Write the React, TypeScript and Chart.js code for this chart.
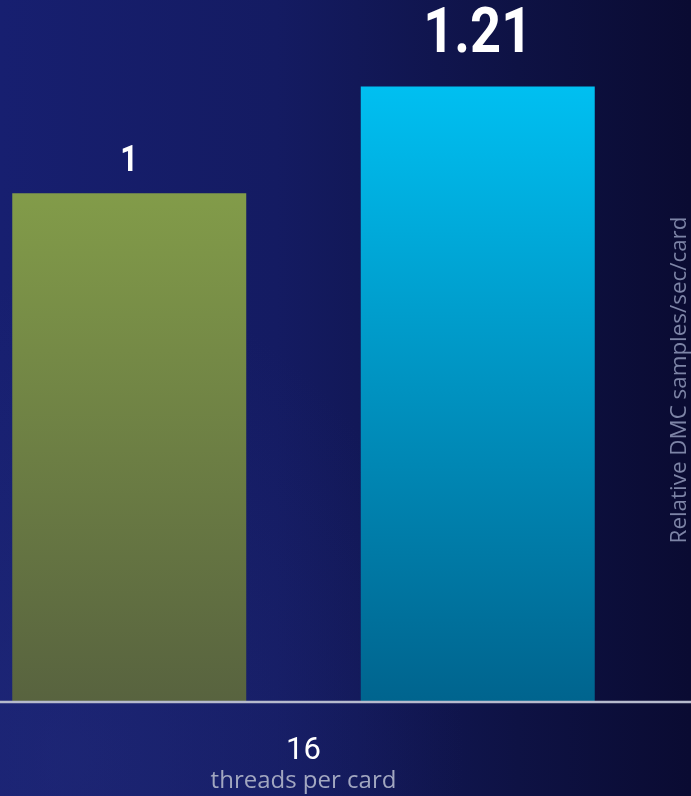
import React, { useEffect, useRef } from "react";
import { Chart, registerables } from "chart.js";

Chart.register(...registerables);

const categories: string[] = ["16"];
const seriesNames: string[] = ["Baseline", "Optimized"];
const seriesValues: number[][] = [[1], [1.21]];
const valueLabels: string[] = ["1", "1.21"];
const xAxisTitle = "threads per card";
const yAxisTitle = "Relative DMC samples/sec/card";

const gradientStops: [string, string][] = [
  ["#92b14d", "#58633f"],
  ["#00ccff", "#00648e"],
];
const labelFontSizes: number[] = [36, 63];
const labelOffsets: number[] = [31, 50];
const labelFont = "'Roboto', sans-serif";

export default function App() {
  const canvasRef = useRef<HTMLCanvasElement | null>(null);

  useEffect(() => {
    document.body.style.margin = "0";
    const canvas = canvasRef.current;
    if (!canvas) return;

    const valueLabelPlugin = {
      id: "valueLabels",
      afterDatasetsDraw(chart: any) {
        const ctx = chart.ctx;
        chart.data.datasets.forEach((_ds: any, di: number) => {
          const meta = chart.getDatasetMeta(di);
          meta.data.forEach((bar: any) => {
            ctx.save();
            ctx.translate(bar.x, bar.y - labelOffsets[di]);
            ctx.scale(0.86, 1);
            ctx.fillStyle = "#ffffff";
            ctx.font = `bold ${labelFontSizes[di]}px ${labelFont}`;
            ctx.textAlign = "center";
            ctx.textBaseline = "middle";
            ctx.fillText(valueLabels[di], 0, 0);
            ctx.restore();
          });
        });
      },
    };

    const decorPlugin = {
      id: "decor",
      afterDraw(chart: any) {
        const ctx = chart.ctx;
        const area = chart.chartArea;
        ctx.save();
        ctx.strokeStyle = "#b6bacd";
        ctx.lineWidth = 2.5;
        ctx.beginPath();
        ctx.moveTo(0, area.bottom);
        ctx.lineTo(chart.width, area.bottom);
        ctx.stroke();
        ctx.translate(chart.width - 11, (area.top + area.bottom) / 2 + 29);
        ctx.rotate(-Math.PI / 2);
        ctx.fillStyle = "#7d84a6";
        ctx.font = "22.4px 'Open Sans', sans-serif";
        ctx.textAlign = "center";
        ctx.textBaseline = "middle";
        ctx.fillText(yAxisTitle, 0, 0);
        ctx.restore();
      },
    };

    const makeGradient = (di: number) => (context: any) => {
      const chart = context.chart;
      const area = chart.chartArea;
      if (!area) return gradientStops[di][0];
      const meta = chart.getDatasetMeta(di);
      const bar = meta.data[0] as any;
      const top = bar && isFinite(bar.y) ? bar.y : area.top;
      const g = chart.ctx.createLinearGradient(0, top, 0, area.bottom);
      g.addColorStop(0, gradientStops[di][0]);
      g.addColorStop(1, gradientStops[di][1]);
      return g;
    };

    const chart = new Chart(canvas, {
      type: "bar",
      data: {
        labels: categories,
        datasets: seriesNames.map((name, di) => ({
          label: name,
          data: seriesValues[di],
          backgroundColor: makeGradient(di),
          borderWidth: 0,
        })),
      },
      options: {
        animation: false,
        responsive: false,
        maintainAspectRatio: false,
        categoryPercentage: 1.1483,
        barPercentage: 0.6714,
        layout: { padding: { left: 0, right: 84, top: 0, bottom: 0 } },
        plugins: {
          legend: { display: false },
          tooltip: { enabled: false },
          title: { display: false },
        },
        scales: {
          x: {
            afterFit: (scale: any) => {
              scale.height = 94;
            },
            grid: { display: false, drawTicks: false },
            border: { display: false },
            ticks: {
              color: "#ffffff",
              padding: 31,
              font: { family: labelFont, size: 31 },
            },
            title: {
              display: true,
              text: xAxisTitle,
              color: "#a2a7c0",
              padding: { top: 0, bottom: 0 },
              font: { family: "'Open Sans', sans-serif", size: 24 },
            },
          },
          y: {
            display: false,
            min: 0,
            max: 1.38,
          },
        },
      },
      plugins: [valueLabelPlugin, decorPlugin],
    } as any);

    return () => chart.destroy();
  }, []);

  return (
    <div
      style={{
        position: "absolute",
        left: 0,
        top: 0,
        width: 691,
        height: 796,
        background:
          "radial-gradient(ellipse at 10% 95%, rgba(40,50,130,0.35) 0%, rgba(40,50,130,0) 45%), linear-gradient(to right, #171f70 0%, #141b62 40%, #0e1244 75%, #0a0b32 100%)",
      }}
    >
      <canvas ref={canvasRef} width={691} height={796} style={{ display: "block" }} />
    </div>
  );
}
